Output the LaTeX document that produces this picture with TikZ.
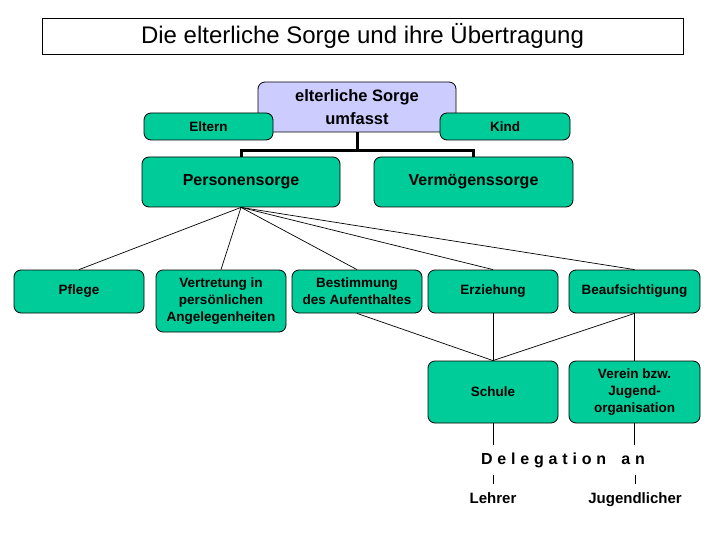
\documentclass[tikz,border=0pt]{standalone}
\usepackage{fontspec}
\setmainfont{Liberation Sans}
\newfontfamily\spacedfont[LetterSpace=30]{Liberation Sans}
\usetikzlibrary{positioning}

\definecolor{boxgreen}{RGB}{0,204,153}
\definecolor{lavender}{RGB}{204,204,255}

\tikzset{
  greenbox/.style={draw=black, fill=boxgreen, rounded corners=7pt, line width=0.8pt,
    align=center, inner sep=1pt, font=\bfseries\fontsize{13.5}{17}\selectfont},
  fan/.style={line width=0.7pt},
  plain/.style={align=center, inner sep=0pt, font=\bfseries\fontsize{15}{18}\selectfont}
}

\begin{document}
\begin{tikzpicture}[x=1pt, y=-1pt]
    \useasboundingbox (0,0) rectangle (720,540);

    % Title
    \node[draw, line width=0.8pt, minimum width=641pt, minimum height=36pt,
      font=\fontsize{24}{28}\selectfont] (title) at (362.5,36) {Die elterliche Sorge und ihre Übertragung};

    % Top: what the parental care covers
    \node[greenbox, fill=lavender, minimum width=198pt, minimum height=50pt,
      font=\bfseries\fontsize{16.5}{23}\selectfont] (umfasst) at (357,107) {elterliche Sorge\\umfasst};
    \node[greenbox, minimum width=129pt, minimum height=27pt] (eltern) at (208.5,126.5) {Eltern};
    \node[greenbox, minimum width=130pt, minimum height=27pt] (kind) at (505,126.5) {Kind};

    % Two branches
    \node[greenbox, minimum width=198pt, minimum height=50pt,
      font=\bfseries\fontsize{16}{20}\selectfont] (person) at (241,182) {Personensorge};
    \node[greenbox, minimum width=199pt, minimum height=50pt,
      font=\bfseries\fontsize{16}{20}\selectfont] (vermoegen) at (473.5,182) {Vermögenssorge};
    \draw[line width=3pt] (umfasst.south) -- ++(0,18) -| (person.north);
    \draw[line width=3pt] (umfasst.south) -- ++(0,18) -| (vermoegen.north);

    % Parts of Personensorge
    \node[greenbox, minimum width=130pt, minimum height=43pt] (pflege) at (79,291.5) {Pflege};
    \node[greenbox, minimum width=130pt, minimum height=62pt] (vertretung) at (221,301) {Vertretung in\\persönlichen\\Angelegenheiten};
    \node[greenbox, minimum width=130pt, minimum height=43pt] (bestimmung) at (357,291.5) {Bestimmung\\des Aufenthaltes};
    \node[greenbox, minimum width=130pt, minimum height=43pt] (erziehung) at (493,291.5) {Erziehung};
    \node[greenbox, minimum width=131pt, minimum height=43pt] (aufsicht) at (634.5,291.5) {Beaufsichtigung};
    \foreach \n in {pflege,vertretung,bestimmung,erziehung,aufsicht}
      \draw[fan] (person.south) -- (\n.north);

    % Delegation
    \node[greenbox, minimum width=130pt, minimum height=62pt] (schule) at (493,392) {Schule};
    \node[greenbox, minimum width=131pt, minimum height=62pt] (verein) at (634.5,392) {Verein bzw.\\Jugend-\\organisation};
    \foreach \n in {bestimmung,erziehung,aufsicht}
      \draw[fan] (\n.south) -- (schule.north);
    \draw[fan] (aufsicht.south) -- (verein.north);

    \node[plain, minimum height=29pt, font=\spacedfont\bfseries\fontsize{16}{18}\selectfont] (deleg) at (563,460) {Delegation\hspace{6pt} an};
    \node[plain, minimum height=30pt, text height=11pt, text depth=3pt] (lehrer) at (493,499) {Lehrer};
    \node[plain, minimum height=30pt, text height=11pt, text depth=3pt] (jugend) at (635,499) {Jugendlicher};
    \draw[fan] (schule.south) -- (schule.south |- deleg.north);
    \draw[fan] (verein.south) -- (verein.south |- deleg.north);
    \draw[fan] (lehrer.north) -- (lehrer.north |- deleg.south);
    \draw[fan] (jugend.north) -- (jugend.north |- deleg.south);
\end{tikzpicture}
\end{document}
